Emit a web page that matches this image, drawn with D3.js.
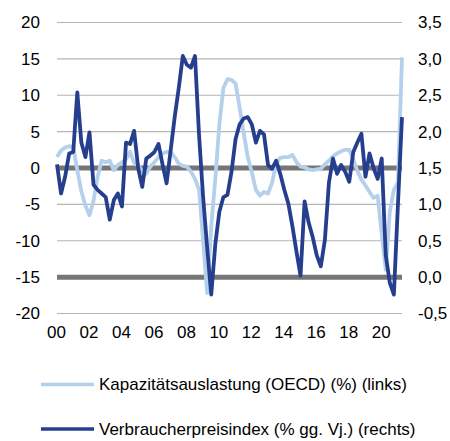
<!doctype html>
<html>

<head>
	<title> Kapazitaetsauslastung und Verbraucherpreise </title>
	<meta charset="UTF-8">
	<script src="https://d3js.org/d3.v7.min.js"></script>
	<style>
		body { margin: 0; background: #ffffff; }
		text { font-family: Arial, "Liberation Sans", sans-serif; fill: #000000; }
	</style>
</head>

<body>
	<script>

		//Quarterly values 2000 Q1 - 2021 Q2
		//Capacity utilisation (OECD), left axis
		var capacity = [
			1.5, 2.4, 2.8, 3.0, 2.9, -0.3, -3.2, -5.2, -6.5, -4.5,
			-1.2, 1.0, 0.8, 1.0, -0.3, 0.4, 0.8, 1.2, 2.2, 0.7,
			0.4, -0.5, -0.8, 0.2, 0.8, 1.5, 2.0, 2.2, 2.2, 1.5,
			0.6, 0.3, 0.2, -0.5, -1.5, -3.0, -10.0, -17.2, -8.0, -1.5,
			6.0, 11.0, 12.2, 12.1, 11.6, 8.3, 4.8, 1.5, -0.6, -3.0,
			-3.8, -3.3, -3.5, -2.0, 0.6, 1.4, 1.5, 1.5, 1.8, 0.8,
			0.2, 0.1, -0.2, -0.3, -0.2, -0.1, 0.5, 1.0, 1.6, 2.0,
			2.3, 2.5, 2.5, 1.2, -0.4, -1.6, -2.4, -3.3, -4.1, -3.8,
			-9.0, -14.0, -6.0, -3.0, -2.0, 15.2
		];

		//Consumer price index (% yoy), right axis
		var cpi = [
			1.55, 1.15, 1.38, 1.70, 1.72, 2.54, 1.85, 1.65, 1.99, 1.27,
			1.20, 1.15, 1.10, 0.79, 1.06, 1.15, 0.97, 1.85, 1.83, 2.01,
			1.50, 1.24, 1.63, 1.67, 1.72, 1.83, 1.55, 1.29, 1.74, 2.20,
			2.60, 3.04, 2.92, 2.88, 3.04, 1.95, 1.10, 0.40, -0.24, 0.45,
			0.90, 1.10, 1.13, 1.45, 1.90, 2.10, 2.18, 2.20, 2.10, 1.85,
			2.01, 1.96, 1.54, 1.49, 1.60, 1.42, 1.20, 1.01, 0.70, 0.35,
			0.02, 1.04, 0.75, 0.55, 0.30, 0.15, 0.51, 1.30, 1.63, 1.42,
			1.54, 1.45, 1.31, 1.72, 1.85, 1.97, 1.38, 1.70, 1.50, 1.35,
			1.63, 0.30, -0.08, -0.24, 1.00, 2.20
		];

		//Tick labels
		var yearLabels = ["00", "02", "04", "06", "08", "10", "12", "14", "16", "18", "20"];
		var leftTicks = [20, 15, 10, 5, 0, -5, -10, -15, -20];
		var rightTicks = [3.5, 3.0, 2.5, 2.0, 1.5, 1.0, 0.5, 0.0, -0.5];
		var boldLines = [0, -15];

		var seriesNames = ["Kapazitätsauslastung (OECD) (%) (links)", "Verbraucherpreisindex (% gg. Vj.) (rechts)"];

		var lightBlue = "#b4d0eb";
		var darkBlue = "#253f8e";

		// plot area
		var plot = {left: 57, right: 402, top: 22.5, bottom: 313.5};

		var svg = d3.select("body")
					.append("svg")
						.attr("width", 450)
						.attr("height", 441);

		//Scales
		var x = d3.scaleLinear()
					.domain([0, capacity.length - 1])
					.range([plot.left, plot.right]);

		var yLeft = d3.scaleLinear()
					.domain([-20, 20])
					.range([plot.bottom, plot.top]);

		var yRight = d3.scaleLinear()
					.domain([-0.5, 3.5])
					.range([plot.bottom, plot.top]);

		//Gridlines
		svg.append("g")
			.selectAll("line")
			.data(leftTicks)
			.enter()
			.append("line")
				.attr("x1", plot.left)
				.attr("x2", plot.right)
				.attr("y1", function(d) { return yLeft(d); })
				.attr("y2", function(d) { return yLeft(d); })
				.attr("stroke", "#b5b5b5")
				.attr("stroke-width", 1.2);

		//Thick gray reference lines
		svg.append("g")
			.selectAll("line")
			.data(boldLines)
			.enter()
			.append("line")
				.attr("x1", plot.left)
				.attr("x2", plot.right)
				.attr("y1", function(d) { return yLeft(d); })
				.attr("y2", function(d) { return yLeft(d); })
				.attr("stroke", "#767676")
				.attr("stroke-width", 5);

		//Left axis (plain hyphen as minus sign)
		var leftAxis = svg.append("g")
						.attr("transform", "translate(40,0)")
						.call(d3.axisLeft(yLeft).tickValues(leftTicks).tickSize(0).tickPadding(0)
							.tickFormat(function(d) { return String(d); }));

		//Right axis, German decimal comma
		var rightAxis = svg.append("g")
						.attr("transform", "translate(418,0)")
						.call(d3.axisRight(yRight).tickValues(rightTicks).tickSize(0).tickPadding(0)
							.tickFormat(function(d) { return d.toFixed(1).replace(".", ","); }));

		//Bottom axis
		var bottomAxis = svg.append("g")
						.attr("transform", "translate(-1,326)")
						.call(d3.axisBottom(x)
							.tickValues(yearLabels.map(function(d, i) { return i * 8; }))
							.tickSize(0).tickPadding(0)
							.tickFormat(function(d, i) { return yearLabels[i]; }));

		svg.selectAll(".domain").remove();
		svg.selectAll(".tick text")
			.attr("font-size", 17)
			.style("font-family", "Arial, 'Liberation Sans', sans-serif")
			.attr("fill", "#000");

		//Lines
		var lineLeft = d3.line()
						.x(function(d, i) { return x(i); })
						.y(function(d) { return yLeft(d); });

		var lineRight = d3.line()
						.x(function(d, i) { return x(i); })
						.y(function(d) { return yRight(d); });

		svg.append("path")
			.datum(capacity)
			.attr("d", lineLeft)
			.attr("fill", "none")
			.attr("stroke", lightBlue)
			.attr("stroke-width", 3.8)
			.attr("stroke-linejoin", "round");

		svg.append("path")
			.datum(cpi)
			.attr("d", lineRight)
			.attr("fill", "none")
			.attr("stroke", darkBlue)
			.attr("stroke-width", 3.8)
			.attr("stroke-linejoin", "round");

		//Legend
		var legend = svg.append("g")
						.selectAll("g")
						.data(seriesNames)
						.enter()
						.append("g")
							.attr("transform", function(d, i) { return "translate(41," + (384.5 + i * 44.5) + ")"; });

		legend.append("line")
			.attr("x1", 0)
			.attr("x2", 53)
			.attr("y1", 0)
			.attr("y2", 0)
			.attr("stroke", function(d, i) { return i == 0 ? lightBlue : darkBlue; })
			.attr("stroke-width", 3.3);

		legend.append("text")
			.attr("x", 58)
			.attr("y", 0)
			.attr("dy", "0.35em")
			.attr("font-size", 17)
			.text(function(d) { return d; });

	</script>
</body>
</html>
